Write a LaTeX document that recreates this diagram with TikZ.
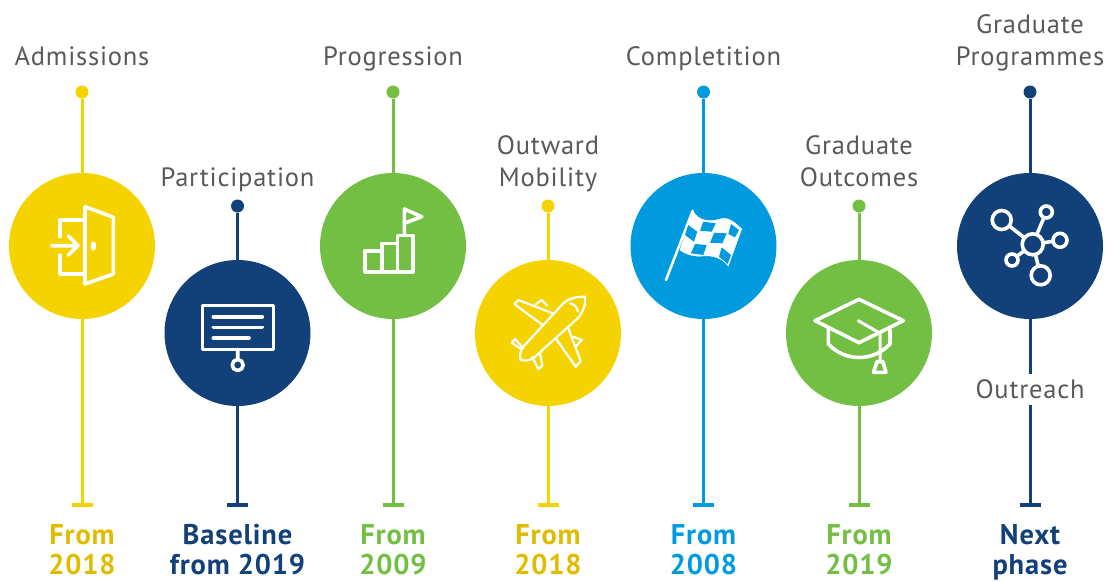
\documentclass[tikz,border=0pt]{standalone}
\usepackage{fontspec}
\setmainfont{PT Sans}[LetterSpace=3]
\definecolor{admyellow}{HTML}{F5D300}
\definecolor{yeartext}{HTML}{E0BC00}
\definecolor{navy}{HTML}{124079}
\definecolor{leaf}{HTML}{72BF44}
\definecolor{sky}{HTML}{009BDF}
\definecolor{labelgray}{HTML}{58595B}
\tikzset{
  topic/.style={font=\fontsize{26.5}{32}\selectfont, text=labelgray, align=center, anchor=base, inner sep=0pt},
  period/.style={font=\fontsize{28.5}{29.5}\selectfont\bfseries, align=center, anchor=base, inner sep=0pt, text depth=0pt},
  dot/.style={circle, fill=#1, minimum size=13pt, inner sep=0pt},
  foot/.style={fill=#1, minimum width=21pt, minimum height=4pt, inner sep=0pt},
  disc/.style={circle, fill=#1, minimum size=146pt, inner sep=0pt},
  stem/.style={draw=#1, line width=3pt},
  icon/.style={draw=white, line width=3.6pt, line join=round, line cap=round},
  thinicon/.style={draw=white, line width=2.2pt, line join=round, line cap=round},
  hub/.style={circle, draw=white, line width=3.6pt, minimum size=#1, inner sep=0pt}
}
\begin{document}
\begin{tikzpicture}[x=1pt,y=-1pt]
  \useasboundingbox (0,0) rectangle (1113,581);

  % Admissions
  \node [dot=admyellow] (admdot) at (82,92) {};
  \node [foot=admyellow] (admfoot) at (82,505) {};
  \draw [stem=admyellow] (admdot) -- (admfoot);
  \node [disc=admyellow] (admdisc) at (82,246) {};
  \node [topic] (admtopic) at (82,65.5) {Admissions};
  \node [period, text=yeartext] (admyear) at (82,574) {From\\2018};
  \draw [icon] (85,206.7) -- (113.3,217.3) -- (113.3,274) -- (85,284) -- cycle;
  \draw [icon] (83,220) -- (60,220) -- (60,236.7) (60,255) -- (60,274) -- (83,274);
  \draw [icon] (51.7,245.7) -- (78,245.7) (68.3,236) -- (78,245.7) -- (68.3,255);
  \draw [icon, line width=5pt] (93,244) -- (93,248);

  % Participation
  \node [dot=navy] (pardot) at (237.5,206) {};
  \node [foot=navy] (parfoot) at (237.5,505) {};
  \draw [stem=navy] (pardot) -- (parfoot);
  \node [disc=navy] (pardisc) at (237.5,333) {};
  \node [topic] (partopic) at (237.5,186.5) {Participation};
  \node [period, text=navy] (paryear) at (237.5,574) {Baseline\\from 2019};
  \draw [icon] (202.3,305.3) rectangle (273.3,349.3);
  \draw [icon] (213.3,316.7) -- (262.3,316.7) (213.3,327.3) -- (262.3,327.3) (213.3,338) -- (249,338);
  \draw [icon] (237.7,349.3) -- (237.7,359) (237.7,365) circle (5.5);

  % Progression
  \node [dot=leaf] (prodot) at (393,92) {};
  \node [foot=leaf] (profoot) at (393,505) {};
  \draw [stem=leaf] (prodot) -- (profoot);
  \node [disc=leaf] (prodisc) at (393,246) {};
  \node [topic] (protopic) at (393,65.5) {Progression};
  \node [period, text=leaf] (proyear) at (393,574) {From\\2009};
  \draw [icon] (365,250.7) rectangle (381.7,271.7);
  \draw [icon] (381.7,243.3) rectangle (397.3,271.7);
  \draw [icon] (397.3,235.3) rectangle (413,271.7);
  \draw [icon] (404.3,235.3) -- (404.3,209) -- (421.7,216.7) -- (404.3,223.3);

  % Outward Mobility
  \node [dot=admyellow] (moddot) at (548,206) {};
  \node [foot=admyellow] (modfoot) at (548,505) {};
  \draw [stem=admyellow] (moddot) -- (modfoot);
  \node [disc=admyellow] (moddisc) at (548,333) {};
  \node [topic] (modtopic) at (548,186.5) {Outward\\Mobility};
  \node [period, text=yeartext] (modyear) at (548,574) {From\\2018};
  \draw [thinicon] (585,296.7) .. controls (575,296.5) and (568,299) .. (563.3,303.3) -- (523.3,346.7) .. controls (520,351) and (519.5,356) .. (520.7,360) .. controls (525,361) and (530,360.5) .. (533.3,358.3) -- (578,318) .. controls (583,312) and (586,304) .. cycle;
  \draw [thinicon] (552.7,313.3) -- (518.3,300) -- (514.3,304) -- (541.7,324.3);
  \draw [thinicon] (568.3,328.3) -- (580.7,361) -- (575.7,366.7) -- (555.7,338.3);
  \draw [thinicon] (535.7,304.3) -- (541.7,300) -- (547.3,305.7);
  \draw [thinicon] (573.3,336.7) -- (581.7,340) -- (575.7,346.7);
  \draw [thinicon] (523.3,348) -- (515,339) -- (511.7,342.7) -- (521,349);
  \draw [thinicon] (532.3,356.7) -- (538.3,369.3) -- (542.3,365.7) -- (540,353);
  \draw [thinicon] (570,303.3) .. controls (574,304) and (577,307) .. (578,311.5);

  % Completition
  \node [dot=sky] (comdot) at (703.5,92) {};
  \node [foot=sky] (comfoot) at (703.5,505) {};
  \draw [stem=sky] (comdot) -- (comfoot);
  \node [disc=sky] (comdisc) at (703.5,246) {};
  \node [topic] (comtopic) at (703.5,65.5) {Completition};
  \node [period, text=sky] (comyear) at (703.5,574) {From\\2008};
  \draw [icon, line width=2.5pt] (666,280) -- (692.7,210.7);
  \draw [fill=white, draw=white, line join=round] (692.7,210.7) .. controls (699,222) and (711,222) .. (720,219) .. controls (729,216) and (736,224) .. (741.7,229) -- (728.3,266) .. controls (722,258) and (713,255) .. (703,256) .. controls (694,257) and (685,254) .. (680,250) -- cycle;
  \fill [sky] (688.3,225) -- (697.3,231.7) -- (694,241.7) -- (685,235) -- cycle;
  \fill [sky] (703.3,221.7) -- (715.7,223.3) -- (711.7,231.7) -- (700,230.7) -- cycle;
  \fill [sky] (731,224) -- (739,230) -- (735,237.3) -- (728.3,234) -- cycle;
  \fill [sky] (714.3,232.7) -- (726.7,233.3) -- (722.3,243.3) -- (710,242.7) -- cycle;
  \fill [sky] (695,244) -- (706.7,245) -- (703.3,255) -- (691,253.3) -- cycle;
  \fill [sky] (721.7,247.3) -- (731,255) -- (727.7,264) -- (719,256.7) -- cycle;

  % Graduate Outcomes
  \node [dot=leaf] (outdot) at (859,206) {};
  \node [foot=leaf] (outfoot) at (859,505) {};
  \draw [stem=leaf] (outdot) -- (outfoot);
  \node [disc=leaf] (outdisc) at (859,333) {};
  \node [topic] (outtopic) at (859,186.5) {Graduate\\Outcomes};
  \node [period, text=leaf] (outyear) at (859,574) {From\\2019};
  \draw [icon] (859,299.3) -- (903.3,320.7) -- (859,342.7) -- (815,320.7) -- cycle;
  \draw [icon] (828.3,328.3) -- (828.3,344) .. controls (845,362) and (873,362) .. (890,344) -- (890,330);
  \draw [icon, line width=3pt] (858.3,320.7) -- (880,333.3) -- (880,361.7);
  \draw [icon] (877,361.7) -- (883,361.7) -- (886,372.3) -- (873.5,372.3) -- cycle;

  % Graduate Programmes
  \node [dot=navy] (gradot) at (1030,92) {};
  \node [foot=navy] (grafoot) at (1030,505) {};
  \draw [stem=navy] (gradot) -- (grafoot);
  \node [disc=navy] (gradisc) at (1030,246) {};
  \node [topic] (gratopic) at (1030,65.5) {Graduate\\Programmes};
  \node [period, text=navy] (grayear) at (1030,574) {Next\\phase};
  \node [topic, fill=white, inner ysep=6pt] (gratext) at (1030,398.5) {Outreach};
  \node [hub=21pt] (hubcore) at (1032.7,244.3) {};
  \node [hub=19pt] (hubul) at (1001.7,220) {};
  \node [hub=12pt] (hubur) at (1046.3,212) {};
  \node [hub=14pt] (hubright) at (1060,240.3) {};
  \node [hub=12pt] (hubll) at (1012,260) {};
  \node [hub=19pt] (hubdown) at (1040.7,275.3) {};
  \draw [icon] (hubcore) -- (hubul);
  \draw [icon] (hubcore) -- (hubur);
  \draw [icon] (hubcore) -- (hubright);
  \draw [icon] (hubcore) -- (hubll);
  \draw [icon] (hubcore) -- (hubdown);
\end{tikzpicture}
\end{document}
